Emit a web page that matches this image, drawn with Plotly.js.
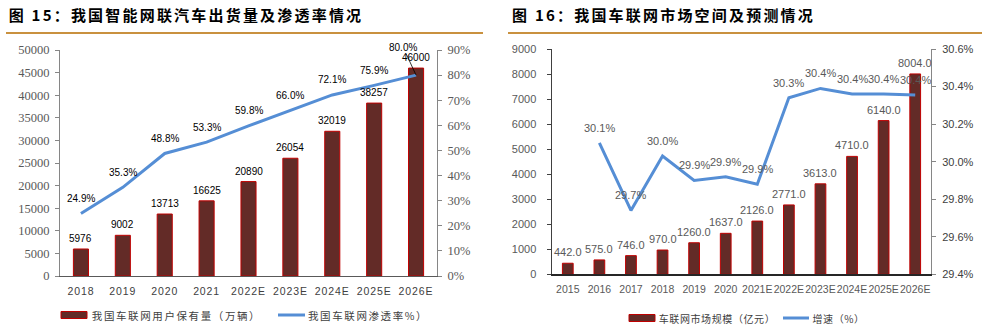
<!DOCTYPE html>
<html><head><meta charset="utf-8">
<script src="https://cdn.plot.ly/plotly-3.0.1.min.js"></script>
<style>
html,body{margin:0;padding:0;background:#fff;}
#chart{width:986px;height:333px;}
.annotation[data-index="0"] text,.annotation[data-index="1"] text{letter-spacing:2.2px;}
.annotation[data-index="2"] text,.annotation[data-index="3"] text{letter-spacing:1.6px;}
.annotation[data-index="4"] text,.annotation[data-index="5"] text{letter-spacing:0.6px;}
.xtick text{letter-spacing:0.9px;}
</style></head>
<body><div id="chart"></div>
<script>
// ---- Data: chart 15 ----
const catsA = ['2018','2019','2020','2021','2022E','2023E','2024E','2025E','2026E'];
const usersA = [5976, 9002, 13713, 16625, 20890, 26054, 32019, 38257, 46000];
const rateA = [24.9, 35.3, 48.8, 53.3, 59.8, 66.0, 72.1, 75.9, 80.0];
// ---- Data: chart 16 ----
const catsB = ['2015','2016','2017','2018','2019','2020','2021E','2022E','2023E','2024E','2025E','2026E'];
const marketB = [442, 575, 746, 970, 1260, 1637, 2126, 2771, 3613, 4710, 6140, 8004];
const growthB = [null, 30.1, 29.74, 30.03, 29.9, 29.92, 29.88, 30.34, 30.39, 30.36, 30.36, 30.355];
// ---- Texts ----
const titleA = '图 15：我国智能网联汽车出货量及渗透率情况';
const titleB = '图 16：我国车联网市场空间及预测情况';
const legA = ['我国车联网用户保有量（万辆）', '我国车联网渗透率%）'];
const legB = ['车联网市场规模（亿元）', '增速（%）'];

const W = 986, H = 333;
const px = x => x / W, py = y => 1 - y / H;
const BAR = '#632B27', BARLINE = '#C00000', BLUE = '#558ED5', ORANGE = '#C9913F';
const SANS = 'Liberation Sans, Arial, sans-serif';
const SERIF = 'Liberation Serif, Times New Roman, serif';
const CJK = 'Noto Sans CJK SC, sans-serif';
// letter-spacing (CSS) widens texts around their centre; shift left-anchored texts to compensate
const lsLeft = (x, s, ls) => px(x + s.length * ls / 2);

const traces = [
  {type:'bar', x:catsA, y:usersA, xaxis:'x', yaxis:'y', width:0.36,
   marker:{color:BAR, line:{color:BARLINE, width:1}}, hoverinfo:'none'},
  {type:'scatter', mode:'lines', x:catsA, y:rateA, xaxis:'x', yaxis:'y2',
   line:{color:BLUE, width:3}, hoverinfo:'none'},
  {type:'bar', x:catsB, y:marketB, xaxis:'x2', yaxis:'y3', width:0.34,
   marker:{color:BAR, line:{color:BARLINE, width:1}}, hoverinfo:'none'},
  {type:'scatter', mode:'lines', x:catsB, y:growthB, xaxis:'x2', yaxis:'y4',
   line:{color:BLUE, width:3}, hoverinfo:'none', connectgaps:false}
];

const ann = [];
ann.push({xref:'paper', yref:'paper', x:lsLeft(7, titleA, 2.2), y:py(15), xanchor:'left', yanchor:'middle', showarrow:false,
  text:titleA, font:{family:CJK, size:15, color:'#000', weight:700}});
ann.push({xref:'paper', yref:'paper', x:lsLeft(510, titleB, 2.2), y:py(15), xanchor:'left', yanchor:'middle', showarrow:false,
  text:titleB, font:{family:CJK, size:15, color:'#000', weight:700}});
ann.push({xref:'paper', yref:'paper', x:lsLeft(90, legA[0], 1.6), y:py(315), xanchor:'left', yanchor:'middle', showarrow:false,
  text:legA[0], font:{family:CJK, size:10.5, color:'#404040'}});
ann.push({xref:'paper', yref:'paper', x:lsLeft(306, legA[1], 1.6), y:py(315), xanchor:'left', yanchor:'middle', showarrow:false,
  text:legA[1], font:{family:CJK, size:10.5, color:'#404040'}});
ann.push({xref:'paper', yref:'paper', x:lsLeft(657, legB[0], 0.6), y:py(318), xanchor:'left', yanchor:'middle', showarrow:false,
  text:legB[0], font:{family:CJK, size:10, color:'#404040'}});
ann.push({xref:'paper', yref:'paper', x:lsLeft(810, legB[1], 0.6), y:py(318), xanchor:'left', yanchor:'middle', showarrow:false,
  text:legB[1], font:{family:CJK, size:10, color:'#404040'}});

// annotation x given as category index (numeric-looking names would be read as indices)
catsA.forEach((c, i) => {
  ann.push({xref:'x', yref:'y', x:i, y:usersA[i], text:String(usersA[i]), showarrow:false,
    yanchor:'bottom', yshift:3, font:{family:SANS, size:10, color:'#000'}});
  const last = i === catsA.length - 1;
  const a = {xref:'x', yref:'y2', x:i, y:rateA[i], text:rateA[i].toFixed(1) + '%',
    font:{family:SANS, size:10, color:'#000'}};
  if (last) {
    Object.assign(a, {showarrow:true, ax:-13, ay:-28, arrowhead:0, arrowwidth:0.8, arrowcolor:'#000', standoff:0});
  } else {
    Object.assign(a, {showarrow:false, yanchor:'middle', yshift:15});
  }
  ann.push(a);
});
catsB.forEach((c, i) => {
  ann.push({xref:'x2', yref:'y3', x:i, y:marketB[i], text:marketB[i].toFixed(1), showarrow:false,
    yanchor:'bottom', yshift:3, font:{family:SANS, size:11, color:'#595959'}});
  if (growthB[i] !== null) {
    ann.push({xref:'x2', yref:'y4', x:i, y:growthB[i], text:growthB[i].toFixed(1) + '%', showarrow:false,
      yanchor:'middle', yshift:15, font:{family:SANS, size:11, color:'#595959'}});
  }
});

const shapes = [
  {type:'line', xref:'paper', yref:'paper', x0:px(6), x1:px(483), y0:py(33), y1:py(33), line:{color:ORANGE, width:2}},
  {type:'line', xref:'paper', yref:'paper', x0:px(508), x1:px(982), y0:py(33), y1:py(33), line:{color:ORANGE, width:2}},
  {type:'rect', xref:'paper', yref:'paper', x0:px(61), x1:px(87), y0:py(311.5), y1:py(318.5), fillcolor:BAR, line:{color:BARLINE, width:1}},
  {type:'line', xref:'paper', yref:'paper', x0:px(278), x1:px(305), y0:py(315), y1:py(315), line:{color:BLUE, width:3}},
  {type:'rect', xref:'paper', yref:'paper', x0:px(629), x1:px(655), y0:py(314.5), y1:py(321.5), fillcolor:BAR, line:{color:BARLINE, width:1}},
  {type:'line', xref:'paper', yref:'paper', x0:px(783), x1:px(809), y0:py(318), y1:py(318), line:{color:BLUE, width:3}}
];

const yAxisBase = {showgrid:false, zeroline:false, showline:true, ticks:'outside', ticklen:4, fixedrange:true, exponentformat:'none'};
const layout = {
  width:W, height:H, margin:{l:0, r:0, t:0, b:0}, paper_bgcolor:'#fff', plot_bgcolor:'rgba(0,0,0,0)',
  showlegend:false,
  xaxis:{domain:[px(60), px(437)], anchor:'y', type:'category', range:[-0.5, catsA.length - 0.5], showline:true,
    linecolor:'#595959', linewidth:1, ticks:'', showgrid:false, zeroline:false, ticklabelstandoff:5, tickangle:0,
    tickfont:{family:SANS, size:10.5, color:'#404040'}},
  yaxis:Object.assign({}, yAxisBase, {domain:[1 - 276/H, 1 - 50/H], anchor:'x', range:[0, 50000], dtick:5000, tickformat:'d',
    linecolor:'#868686', tickcolor:'#868686', tickfont:{family:SERIF, size:12.5, color:'#595959'}, ticklabelstandoff:3}),
  yaxis2:Object.assign({}, yAxisBase, {overlaying:'y', side:'right', anchor:'x', range:[0, 90], dtick:10, ticksuffix:'%',
    linecolor:'#868686', tickcolor:'#868686', tickfont:{family:SERIF, size:12.5, color:'#595959'}, ticklabelstandoff:3}),
  xaxis2:{domain:[px(552), px(931)], anchor:'y3', type:'category', range:[-0.5, catsB.length - 0.5], showline:true,
    linecolor:'#262626', linewidth:1.5, ticks:'', showgrid:false, zeroline:false, ticklabelstandoff:5, tickangle:0,
    tickfont:{family:SANS, size:10.5, color:'#595959'}},
  yaxis3:Object.assign({}, yAxisBase, {domain:[1 - 274.3/H, 1 - 49/H], anchor:'x2', range:[0, 9000], dtick:1000,
    linecolor:'#404040', tickcolor:'#404040', linewidth:1.5, tickfont:{family:SANS, size:11, color:'#595959'}, ticklabelstandoff:8}),
  yaxis4:Object.assign({}, yAxisBase, {overlaying:'y3', side:'right', anchor:'x2', range:[29.4, 30.6], dtick:0.2,
    tickformat:'.1f', ticksuffix:'%', linecolor:'#868686', tickcolor:'#868686',
    tickfont:{family:SANS, size:11, color:'#404040'}, ticklabelstandoff:4}),
  annotations:ann, shapes:shapes
};
Plotly.newPlot('chart', traces, layout, {staticPlot:true, displayModeBar:false});
</script></body></html>
